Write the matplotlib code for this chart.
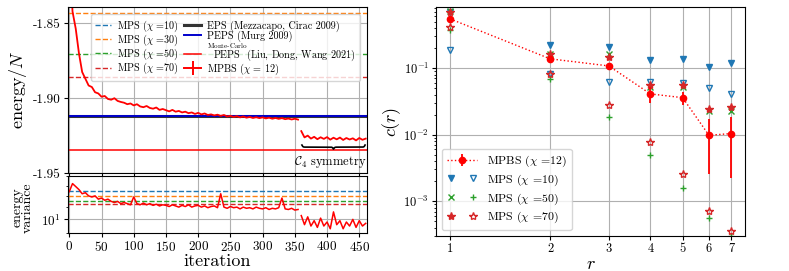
import numpy as np
import matplotlib
matplotlib.use("Agg")
import matplotlib.pyplot as plt
from matplotlib.lines import Line2D
from matplotlib.legend_handler import HandlerTuple
from matplotlib.ticker import FixedLocator, FixedFormatter, NullLocator, NullFormatter, LogLocator, FormatStrFormatter

plt.rcParams['font.family'] = 'serif'
plt.rcParams['font.serif'] = ['cmr10', 'DejaVu Serif']
plt.rcParams['mathtext.fontset'] = 'cm'
plt.rcParams['axes.unicode_minus'] = False
plt.rcParams['axes.formatter.use_mathtext'] = True

# ---------------- data: left panel ----------------
iters_a = [0, 5, 10, 15, 20, 25, 30, 35, 40, 45, 50, 55, 60, 65, 70, 75, 80, 85, 90, 95,
           100, 105, 110, 115, 120, 125, 130, 135, 140, 145, 150, 155, 160, 165, 170, 175,
           180, 185, 190, 195, 200, 205, 210, 215, 220, 225, 230, 235, 240, 245, 250, 255,
           260, 265, 270, 275, 280, 285, 290, 295, 300, 305, 310, 315, 320, 325, 330, 335,
           340, 345, 350, 355]
energy_a = [-1.800, -1.842, -1.8535, -1.8700, -1.8825, -1.8870, -1.8915, -1.8925, -1.8960, -1.8968,
            -1.8990, -1.8985, -1.9005, -1.9010, -1.9000, -1.9018, -1.9025, -1.9030, -1.9040, -1.9035,
            -1.9048, -1.9040, -1.9055, -1.9060, -1.9052, -1.9065, -1.9070, -1.9062, -1.9078, -1.9072,
            -1.9080, -1.9088, -1.9078, -1.9090, -1.9085, -1.9095, -1.9090, -1.9100, -1.9095, -1.9105,
            -1.9098, -1.9108, -1.9102, -1.9112, -1.9108, -1.9115, -1.9110, -1.9118, -1.9112, -1.9122,
            -1.9118, -1.9125, -1.9120, -1.9128, -1.9122, -1.9130, -1.9125, -1.9132, -1.9127, -1.9133,
            -1.9128, -1.9135, -1.9130, -1.9137, -1.9132, -1.9138, -1.9133, -1.9140, -1.9136, -1.9142,
            -1.9137, -1.9143]
var_a = [12.4, 13.2, 12.9, 12.6, 12.2, 12.3, 12.0, 11.9, 12.0, 11.7, 11.8, 11.6, 11.7, 11.5, 11.4,
         11.5, 11.3, 11.4, 11.3, 11.2, 11.9, 11.3, 11.2, 11.35, 11.2, 11.3, 11.15, 11.25, 11.1, 11.2,
         11.15, 11.05, 11.2, 11.1, 11.0, 11.15, 11.05, 11.2, 11.0, 11.1, 11.15, 11.0, 11.1, 10.95,
         11.05, 11.1, 10.95, 12.2, 11.0, 10.9, 11.05, 10.95, 11.0, 10.85, 11.0, 10.9, 10.95, 10.85,
         11.0, 10.9, 10.85, 10.95, 10.8, 10.9, 10.85, 10.95, 11.8, 10.85, 10.8, 10.9, 10.75, 10.8]

iters_c4 = [360, 365, 370, 375, 380, 385, 390, 395, 400, 405, 410, 415, 420, 425, 430, 435,
            440, 445, 450, 455, 460]
energy_c4 = [-1.9220, -1.9262, -1.9250, -1.9270, -1.9258, -1.9274, -1.9261, -1.9272, -1.9260,
             -1.9277, -1.9264, -1.9275, -1.9263, -1.9279, -1.9266, -1.9276, -1.9268, -1.9282,
             -1.9266, -1.9278, -1.9270]
var_c4 = [10.3, 9.6, 10.2, 9.5, 9.9, 9.4, 10.1, 9.5, 9.8, 9.3, 10.6, 9.6, 9.9, 9.3, 9.8, 9.5,
          10.0, 9.4, 9.9, 9.5, 9.7]

mps_labels = [r'MPS ($\chi$ =10)', r'MPS ($\chi$ =30)', r'MPS ($\chi$ =50)', r'MPS ($\chi$ =70)']
mps_colors = ['tab:blue', 'tab:orange', 'tab:green', 'tab:red']
mps_energy = [-1.8200, -1.8427, -1.8707, -1.8860]
mps_var = [12.46, 11.99, 11.53, 11.27]
eps_energy = -1.9120
peps_energy = -1.9120
mc_peps_energy = -1.9347

# ---------------- data: right panel ----------------
r_vals = [1, 2, 3, 4, 5, 6, 7]
mpbs_c = [0.55, 0.138, 0.108, 0.041, 0.036, 0.0098, 0.0104]
mpbs_err = [0.02, 0.012, 0.01, 0.011, 0.008, 0.0072, 0.0082]
mps10_a = [0.70, 0.22, 0.21, 0.132, 0.137, 0.105, 0.118]
mps10_b = [0.187, 0.081, 0.062, 0.062, 0.059, 0.0505, 0.0407]
mps50_a = [0.72, 0.166, 0.166, 0.052, 0.052, 0.0226, 0.0228]
mps50_b = [0.37, 0.069, 0.0185, 0.0049, 0.00157, 0.00055, 0.0003]
mps70_a = [0.70, 0.165, 0.148, 0.0555, 0.055, 0.024, 0.0257]
mps70_b = [0.41, 0.083, 0.0275, 0.0077, 0.0026, 0.00071, 0.00036]

# ---------------- figure ----------------
W, H = 789, 271
fig = plt.figure(figsize=(W / 100, H / 100), dpi=100)

def box(x0, y0, x1, y1):
    return [x0 / W, 1 - y1 / H, (x1 - x0) / W, (y1 - y0) / H]

ax = fig.add_axes(box(68, 7, 367, 173))
axv = fig.add_axes(box(68, 176, 367, 233), sharex=ax)
axr = fig.add_axes(box(436, 7, 745, 236))

grid_kw = dict(color='#b0b0b0', linewidth=0.8)
tick_kw = dict(labelsize=9.5, pad=2, length=3)

# main energy axes
for e, c, lab in zip(mps_energy, mps_colors, mps_labels):
    ax.axhline(e, color=c, ls='--', lw=1, label=lab)
ax.axhline(eps_energy, color='#333333', lw=2.2, label='EPS (Mezzacapo, Cirac 2009)')
ax.axhline(peps_energy, color='#0000cc', lw=1.4, label='PEPS (Murg 2009)')
ax.axhline(mc_peps_energy, color='red', lw=1.1,
           label=r'$\overset{\mathrm{Monte}\text{-}\mathrm{Carlo}}{\mathrm{PEPS}}$(Liu, Dong, Wang 2021)')
ax.plot(iters_a, energy_a, color='red', lw=1.3)
ax.plot(iters_c4, energy_c4, color='red', lw=1.3)
mpbs_handle = Line2D([], [], color='red', lw=1.4, marker='|', markersize=10, markeredgewidth=1.4)

ax.set_xlim(-2, 462)
ax.set_ylim(-1.95, -1.839)
ax.set_yticks([-1.95, -1.90, -1.85])
ax.yaxis.set_major_formatter(FormatStrFormatter('%.2f'))
ax.set_xticks(np.arange(0, 451, 50))
ax.tick_params(axis='x', labelbottom=False)
ax.tick_params(**tick_kw)
ax.grid(True, **grid_kw)
ax.set_axisbelow(True)
ax.set_ylabel(r'energy/$N$', fontsize=13)
ax.yaxis.set_label_coords(-0.13, 0.5)

handles, labels = ax.get_legend_handles_labels()
handles.append(mpbs_handle)
labels.append(r'MPBS ($\chi$ = 12)')
ax.legend(handles, labels, ncol=2, loc='upper right', bbox_to_anchor=(0.993, 0.99),
          fontsize=7.3, handlelength=1.6, handletextpad=0.6, columnspacing=0.5,
          labelspacing=-0.1, borderpad=0.45, framealpha=0.8)

# curly brace
def draw_brace(axis, x0, x1, ytop, height, xtip):
    n = 400
    xs = np.linspace(x0, x1, n)
    beta = 1.2
    yb = (1 / (1 + np.exp(-beta * (xs - x0))) + 1 / (1 + np.exp(-beta * (xs - xtip))) - 0.5)
    yb2 = (1 / (1 + np.exp(beta * (xs - x1))) + 1 / (1 + np.exp(beta * (xs - xtip))) - 0.5)
    yy = np.where(xs <= xtip, yb, yb2)
    axis.plot(xs, ytop - height * yy * 0.5, color='black', lw=1.2, clip_on=False)

draw_brace(ax, 361, 459, -1.9313, 0.0056, 410)
ax.text(405, -1.9425, r'$\mathcal{C}_4$ symmetry', ha='center', va='center', fontsize=9)

# variance axes
for v, c in zip(mps_var, mps_colors):
    axv.axhline(v, color=c, ls='--', lw=1)
axv.plot(iters_a, var_a, color='red', lw=1.1)
axv.plot(iters_c4, var_c4, color='red', lw=1.1)
axv.set_yscale('log')
axv.set_ylim(9.0, 14.0)
axv.yaxis.set_major_locator(FixedLocator([10]))
axv.yaxis.set_major_formatter(FixedFormatter([r'$10^{1}$']))
axv.yaxis.set_minor_locator(FixedLocator([9, 11, 12, 13, 14]))
axv.yaxis.set_minor_formatter(NullFormatter())
axv.set_xticks(np.arange(0, 451, 50))
axv.tick_params(**tick_kw)
axv.tick_params(which='minor', length=1.5)
axv.grid(True, which='major', **grid_kw)
axv.set_axisbelow(True)
axv.set_xlabel('iteration', fontsize=13, labelpad=0)
axv.set_ylabel('energy\nvariance', fontsize=10, linespacing=0.8)
axv.yaxis.set_label_coords(-0.115, 0.45)

# right panel
axr.set_xscale('log')
axr.set_yscale('log')
eb = axr.errorbar(r_vals, mpbs_c, yerr=mpbs_err, fmt='o', ls=':', color='red', ms=4.5,
                  lw=1.0, elinewidth=1.3, capsize=0, label=r'MPBS ($\chi$ =12)', zorder=5)
ms = 5
l10a, = axr.plot(r_vals, mps10_a, 'v', color='tab:blue', ms=ms, ls='none')
l10b, = axr.plot(r_vals, mps10_b, 'v', color='tab:blue', mfc='none', ms=ms, ls='none')
l50a, = axr.plot(r_vals, mps50_a, 'x', color='tab:green', ms=ms, ls='none')
l50b, = axr.plot(r_vals, mps50_b, '+', color='tab:green', ms=ms, ls='none')
l70a, = axr.plot(r_vals, mps70_a, '*', color='tab:red', ms=ms + 1, ls='none')
l70b, = axr.plot(r_vals, mps70_b, '*', color='tab:red', mfc='none', ms=ms + 1, ls='none')

axr.set_xlim(0.907, 7.7)
axr.set_ylim(3.0e-4, 0.83)
axr.xaxis.set_major_locator(FixedLocator(r_vals))
axr.xaxis.set_major_formatter(FixedFormatter([str(v) for v in r_vals]))
axr.xaxis.set_minor_locator(NullLocator())
axr.yaxis.set_major_locator(LogLocator(base=10, numticks=10))
axr.tick_params(labelsize=9, pad=2, length=3)
axr.tick_params(which='minor', length=1.5)
axr.grid(True, which='major', **grid_kw)
axr.set_axisbelow(True)
axr.set_xlabel(r'$r$', fontsize=13, labelpad=1)
axr.set_ylabel(r'$c(r)$', fontsize=13, labelpad=0)

axr.legend([eb, (l10a, l10b), (l50a, l50b), (l70a, l70b)],
           [r'MPBS ($\chi$ =12)', r'MPS ($\chi$ =10)', r'MPS ($\chi$ =50)', r'MPS ($\chi$ =70)'],
           handler_map={tuple: HandlerTuple(ndivide=None, pad=1.0)},
           loc='lower left', bbox_to_anchor=(0.0, 0.0), fontsize=8.5, handlelength=2.6,
           labelspacing=0.3, framealpha=0.8)

fig.savefig('out.png', dpi=100)
